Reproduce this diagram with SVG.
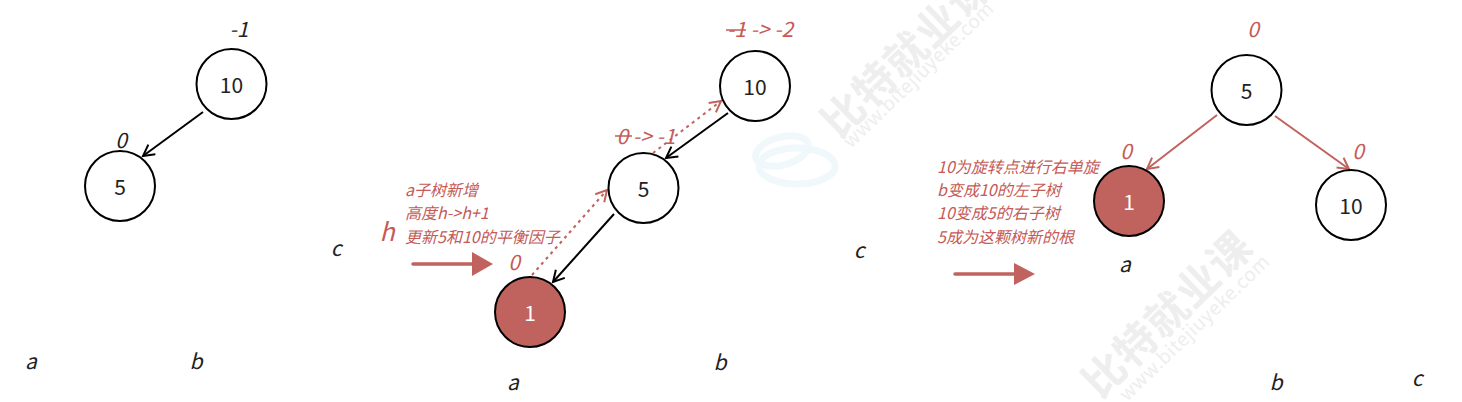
<svg xmlns="http://www.w3.org/2000/svg" width="1462" height="402" viewBox="0 0 1462 402">
<style>
text{font-family:"Noto Sans CJK SC","Noto Sans",sans-serif}
.n{fill:#fff;stroke:#000;stroke-width:2}
.r{fill:#c0625d;stroke:#000;stroke-width:2}
.v{font-size:21px;fill:#222;text-anchor:middle}
.i{font-size:21px;font-style:italic;fill:#222;text-anchor:middle}
.ir{font-size:21px;font-style:italic;fill:#c55a56;text-anchor:middle}
.t{font-size:16px;font-style:italic;fill:#c55a56}
.k{fill:none;stroke:#000;stroke-width:2}
.kr{fill:none;stroke:#c0625d;stroke-width:2}
.d{fill:none;stroke:#c0625d;stroke-width:2;stroke-dasharray:3 4}
.b{fill:none;stroke:#c0625d;stroke-width:3.5;stroke-linecap:round}
.wm{font-size:42px;font-weight:700;fill:#eeeeee}
.wu{font-size:19px;fill:#eeeeee;letter-spacing:.5px}
.sw{fill:none;stroke:#f0f8fb;stroke-width:7}
</style>
<defs>
<marker id="ak" markerUnits="userSpaceOnUse" markerWidth="16" markerHeight="16" refX="13" refY="7" orient="auto"><path d="M2 1L13 7L2 13" fill="none" stroke="#000" stroke-width="2"/></marker>
<marker id="ar" markerUnits="userSpaceOnUse" markerWidth="16" markerHeight="16" refX="13" refY="7" orient="auto"><path d="M2 1L13 7L2 13" fill="none" stroke="#c0625d" stroke-width="2"/></marker>
</defs>
<g id="watermark">
<ellipse class="sw" cx="782" cy="151" rx="27" ry="14" transform="rotate(-15 782 151)"/>
<ellipse class="sw" cx="797" cy="166" rx="38" ry="18"/>
<text class="wm" transform="translate(839 140) rotate(-44)" textLength="215">比特就业课</text>
<text class="wu" transform="translate(851 149) rotate(-44)">www.bitejiuyeke.com</text>
<text class="wm" transform="translate(1100 400) rotate(-44)" textLength="215">比特就业课</text>
<text class="wu" transform="translate(1127 402) rotate(-44)">www.bitejiuyeke.com</text>
</g>
<g id="connectors">
<path class="k" d="M203 112L143 156" marker-end="url(#ak)"/>
<path class="k" d="M728 113L666 158" marker-end="url(#ak)"/>
<path class="k" d="M614 214L553 282" marker-end="url(#ak)"/>
<path class="d" d="M653 153L721 101" marker-end="url(#ar)"/>
<path class="d" d="M532 275L607 190" marker-end="url(#ar)"/>
<path class="kr" d="M1217 115L1147 169" marker-end="url(#ar)"/>
<path class="kr" d="M1275 116L1349 169" marker-end="url(#ar)"/>
<path class="b" d="M413 264H474"/><path d="M472 252L493 264L472 276Z" fill="#c0625d"/>
<path class="b" d="M955 274H1016"/><path d="M1014 263L1035 274L1014 285Z" fill="#c0625d"/>
</g>
<g id="tree1">
<g id="t1-10"><circle class="n" cx="231.500" cy="84" r="35"/><text class="v" x="231.500" y="93">10</text></g>
<g id="t1-5"><circle class="n" cx="120" cy="186" r="35"/><text class="v" x="120" y="195">5</text></g>
<text class="i" x="239" y="37">-1</text>
<text class="i" x="121" y="148">0</text>
<text class="i" x="31" y="369">a</text>
<text class="i" x="196" y="369">b</text>
<text class="i" x="336" y="256">c</text>
</g>
<g id="tree2">
<g id="t2-10"><circle class="n" cx="755" cy="86" r="35"/><text class="v" x="755" y="95">10</text></g>
<g id="t2-5"><circle class="n" cx="643.500" cy="188" r="35"/><text class="v" x="643.500" y="197">5</text></g>
<g id="t2-1"><circle class="r" cx="530" cy="312" r="35"/><text class="v" x="530" y="321" style="fill:#fff">1</text></g>
<text class="ir" x="760" y="37">-1 -&gt; -2</text>
<path d="M726 30H746" stroke="#c55a56" stroke-width="1.500"/>
<text class="ir" x="646" y="144">0 -&gt; -1</text>
<path d="M615 136H632" stroke="#c55a56" stroke-width="1.500"/>
<text class="ir" x="514" y="270">0</text>
<text class="ir" x="387" y="241" style="font-size:25px">h</text>
<text class="t" x="405" y="196">a子树新增</text>
<text class="t" x="405" y="219">高度h-&gt;h+1</text>
<text class="t" x="405" y="243">更新5和10的平衡因子</text>
<text class="i" x="513" y="390">a</text>
<text class="i" x="720" y="370">b</text>
<text class="i" x="859" y="258">c</text>
</g>
<g id="tree3">
<g id="t3-5"><circle class="n" cx="1246.500" cy="90" r="35"/><text class="v" x="1246.500" y="99">5</text></g>
<g id="t3-1"><circle class="r" cx="1129" cy="201" r="35"/><text class="v" x="1129" y="210" style="fill:#fff">1</text></g>
<g id="t3-10"><circle class="n" cx="1351" cy="205" r="35"/><text class="v" x="1351" y="214">10</text></g>
<text class="ir" x="1253" y="37">0</text>
<text class="ir" x="1126" y="159">0</text>
<text class="ir" x="1358" y="159">0</text>
<text class="t" x="937" y="173">10为旋转点进行右单旋</text>
<text class="t" x="937" y="196">b变成10的左子树</text>
<text class="t" x="937" y="219">10变成5的右子树</text>
<text class="t" x="937" y="243">5成为这颗树新的根</text>
<text class="i" x="1125" y="272">a</text>
<text class="i" x="1276" y="390">b</text>
<text class="i" x="1417" y="386">c</text>
</g>
</svg>
